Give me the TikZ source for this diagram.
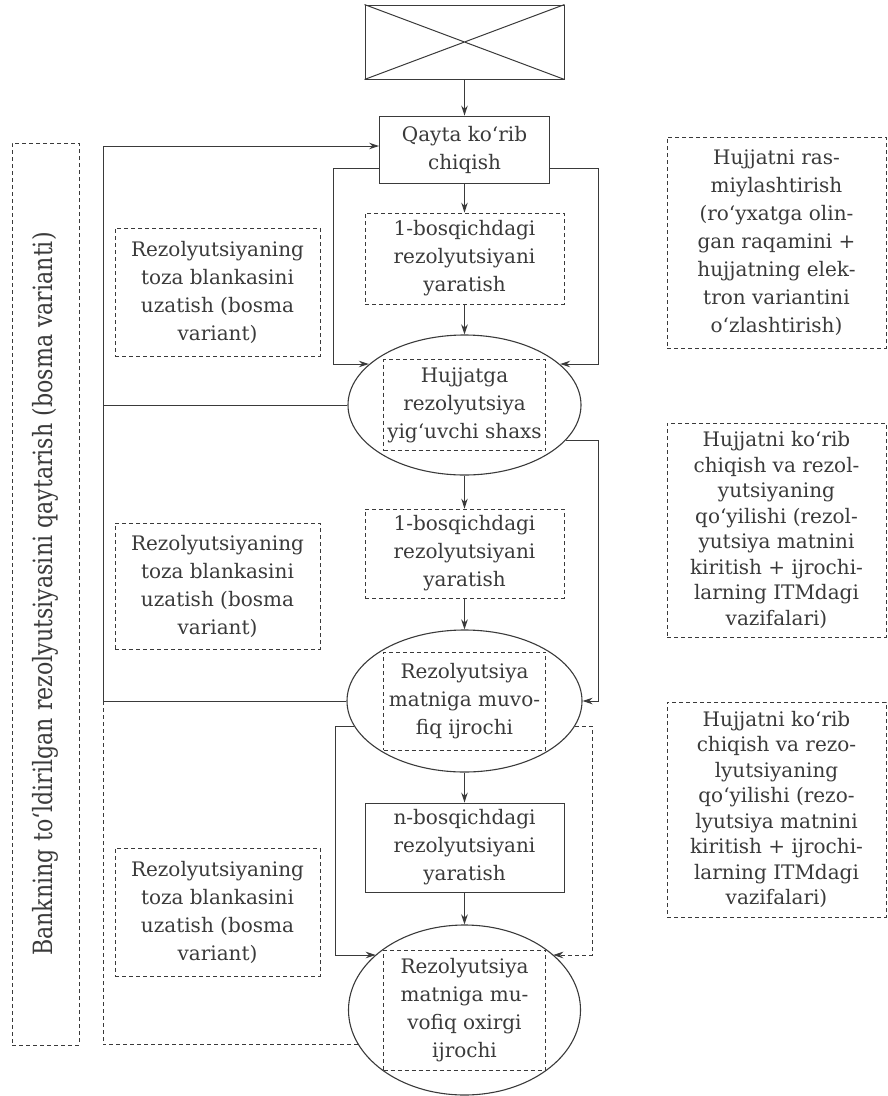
\documentclass[tikz,border=0pt]{standalone}
\usepackage{fontspec}
\setmainfont{DejaVu Serif}
\usepackage{graphicx}
\usetikzlibrary{shapes.geometric,arrows.meta}
\definecolor{ink}{HTML}{3A3A3A}
\tikzstyle{solidbox}=[draw=ink, line width=0.9pt, inner sep=0pt, align=center, text=ink, font=\fontsize{20}{28}\selectfont]
\tikzstyle{dashbox}=[solidbox, line width=0.8pt, dash pattern=on 4pt off 3pt]
\tikzstyle{oval}=[draw=ink, line width=1.1pt, ellipse, inner sep=0pt]
\tikzstyle{link}=[draw=ink, line width=1pt]
\tikzstyle{dashlink}=[link, line width=0.8pt, dash pattern=on 4pt off 3pt]
\tikzstyle{arr}=[link, -{Stealth[length=10pt,width=6.5pt]}]
\newcommand{\actor}[7]{
  \node[oval, minimum width=#4pt, minimum height=#5pt] (#1) at (#2,#3) {};
  \node[dashbox, minimum width=162pt, minimum height=#6pt] (#1txt) at (#2,#3) {#7}
}

\begin{document}
\begin{tikzpicture}[x=1pt,y=-1pt]
  \useasboundingbox (0,0) rectangle (887,1096);
  % main column
  \node[solidbox, minimum width=199pt, minimum height=74pt] (blank) at (464.5,42) {};
  \draw[link] (blank.north west) -- (blank.south east) (blank.north east) -- (blank.south west);
  \node[solidbox, minimum width=170pt, minimum height=67pt] (review) at (464.5,149.5) {Qayta ko‘rib\\chiqish};
  \node[dashbox, minimum width=199pt, minimum height=91pt] (stageA) at (464.5,258.5) {1-bosqichdagi\\rezolyutsiyani\\yaratish};
  \actor{collector}{464.5}{405}{233}{140}{91}{Hujjatga\\rezolyutsiya\\yig‘uvchi shaxs};
  \node[dashbox, minimum width=199pt, minimum height=89pt] (stageB) at (464.5,553.5) {1-bosqichdagi\\rezolyutsiyani\\yaratish};
  \actor{executor}{464.5}{701}{235}{142}{98}{Rezolyutsiya\\matniga muvo-\\fiq ijrochi};
  \node[solidbox, minimum width=199pt, minimum height=89pt] (stageN) at (464.5,847.5) {n-bosqichdagi\\rezolyutsiyani\\yaratish};
  \actor{lastexec}{464.5}{1010}{232}{170}{120}{Rezolyutsiya\\matniga mu-\\vofiq oxirgi\\ijrochi};

  % left column
  \node[dashbox, minimum width=205pt, minimum height=128pt] (printA) at (217.5,292) {Rezolyutsiyaning\\toza blankasini\\uzatish (bosma\\variant)};
  \node[dashbox, minimum width=205pt, minimum height=126pt] (printB) at (217.5,586) {Rezolyutsiyaning\\toza blankasini\\uzatish (bosma\\variant)};
  \node[dashbox, minimum width=205pt, minimum height=128pt] (printC) at (217.5,912) {Rezolyutsiyaning\\toza blankasini\\uzatish (bosma\\variant)};
  \node[dashbox, minimum width=67pt, minimum height=902pt] (returnbox) at (45.5,594) {};
  \node[rotate=90, text=ink, inner sep=0pt] (returnlbl) at (returnbox.center)
    {\scalebox{0.835}[1]{\fontsize{26.5}{30}\selectfont Bankning to‘ldirilgan rezolyutsiyasini qaytarish (bosma varianti)}};

  % right column
  \node[dashbox, minimum width=219pt, minimum height=211pt] (noteA) at (776.5,242.5) {Hujjatni ras-\\miylashtirish\\(ro‘yxatga olin-\\gan raqamini +\\hujjatning elek-\\tron variantini\\o‘zlashtirish)};
  \node[dashbox, minimum width=219pt, minimum height=214pt, font=\fontsize{20}{25.5}\selectfont] (noteB) at (776.5,530) {Hujjatni ko‘rib\\chiqish va rezol-\\yutsiyaning\\qo‘yilishi (rezol-\\yutsiya matnini\\kiritish + ijrochi-\\larning ITMdagi\\vazifalari)};
  \node[dashbox, minimum width=219pt, minimum height=215pt, font=\fontsize{20}{25.5}\selectfont] (noteC) at (776.5,809.5) {Hujjatni ko‘rib\\chiqish va rezo-\\lyutsiyaning\\qo‘yilishi (rezo-\\lyutsiya matnini\\kiritish + ijrochi-\\larning ITMdagi\\vazifalari)};

  % junctions
  \coordinate (fbtop) at (103,146);
  \coordinate (loopL) at (333,168);
  \coordinate (loopLb) at (333,364);
  \coordinate (loopR) at (598,168);
  \coordinate (loopRb) at (598,364);
  \coordinate (lowL) at (335,955);
  \coordinate (lowR) at (592,955);

  % connectors
  \draw[arr] (blank) -- (review);
  \draw[arr] (review) -- (stageA);
  \draw[arr] (stageA) -- (collector);
  \draw[arr] (collector) -- (stageB);
  \draw[arr] (stageB) -- (executor);
  \draw[arr] (executor) -- (stageN);
  \draw[arr] (stageN) -- (lastexec);
  \draw[arr] (loopL -| review.west) -- (loopL) -- (loopLb) -- (loopLb -| collector.157);
  \draw[arr] (loopR -| review.east) -- (loopR) -- (loopRb) -- (loopRb -| collector.23);
  \draw[arr] (collector.west) -- (collector.west -| fbtop) -- (fbtop) -- (fbtop -| review.west);
  \draw[link] (executor.west) -- (executor.west -| fbtop) -- (collector.west -| fbtop);
  \draw[dashlink] (lastexec.198) -- (lastexec.198 -| fbtop) -- (executor.west -| fbtop);
  \draw[arr] (collector.341) -- (collector.341 -| loopR) -- (executor.east -| loopR) -- (executor.east);
  \draw[arr] (executor.193) -- (executor.193 -| lowL) -- (lowL) -- (lowL -| lastexec.148);
  \draw[arr, dashlink] (executor.347) -- (executor.347 -| lowR) -- (lowR) -- (lowR -| lastexec.32);
\end{tikzpicture}
\end{document}
